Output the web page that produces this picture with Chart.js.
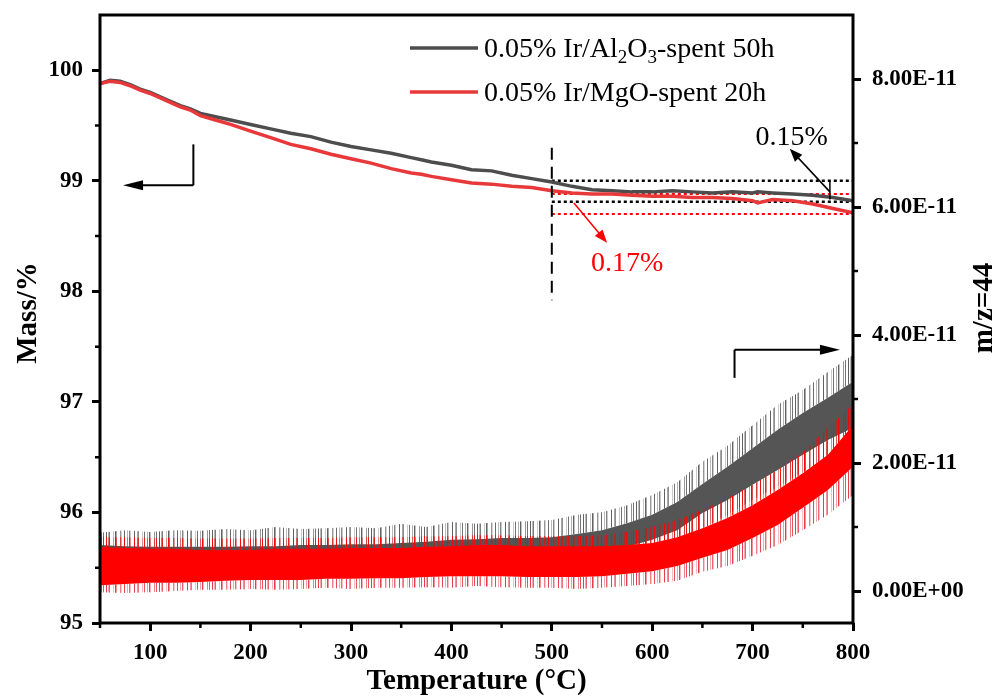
<!DOCTYPE html>
<html>
<head>
<meta charset="utf-8">
<script src="https://cdn.jsdelivr.net/npm/chart.js@4.4.1/dist/chart.umd.min.js"></script>
<style>
  html, body { margin: 0; padding: 0; background: #fff; }
</style>
</head>
<body>
<canvas id="tga" width="1005" height="700"></canvas>
<script>
// ---- mass loss (left axis, %) ----
const massTemp = [50, 60, 70, 80, 90, 100, 115, 130, 140, 150, 165, 180, 200, 220, 240, 260, 280, 300, 320, 340, 360, 370, 380, 400,
  420, 440, 460, 480, 500, 520, 540, 560, 580, 600, 620, 640, 660, 680, 700, 705, 720, 740, 760, 780, 800]
const massAl = [99.88, 99.91, 99.90, 99.87, 99.83, 99.80, 99.74, 99.68, 99.65, 99.61, 99.58, 99.55, 99.51, 99.47, 99.43, 99.40,
  99.35, 99.31, 99.28, 99.25, 99.21, 99.19, 99.17, 99.14, 99.10, 99.09, 99.05, 99.02, 98.99, 98.95, 98.92, 98.91, 98.90, 98.90,
  98.91, 98.90, 98.89, 98.90, 98.89, 98.90, 98.89, 98.88, 98.87, 98.85, 98.82]
const massMg = [99.88, 99.90, 99.89, 99.86, 99.82, 99.79, 99.73, 99.67, 99.64, 99.59, 99.55, 99.51, 99.45, 99.39, 99.33, 99.29,
  99.24, 99.20, 99.16, 99.11, 99.07, 99.06, 99.04, 99.01, 98.98, 98.97, 98.95, 98.94, 98.91, 98.89, 98.88, 98.88, 98.87, 98.86,
  98.86, 98.85, 98.85, 98.84, 98.82, 98.80, 98.83, 98.82, 98.79, 98.75, 98.71]

// ---- m/z=44 signal (right axis, units of 1E-11), envelopes of the noisy trace ----
const msTemp = [50, 75, 100, 125, 150, 175, 200, 225, 250, 275, 300, 325, 350, 375, 400, 425, 450, 475, 500, 525, 550, 575,
  600, 625, 650, 675, 700, 725, 750, 775, 800]
const alSpikeTop = [0.91, 0.95, 0.92, 0.95, 0.94, 0.97, 0.95, 1.00, 0.97, 0.98, 1.00, 0.98, 1.05, 1.00, 1.08, 1.05, 1.08, 1.09,
  1.11, 1.19, 1.23, 1.34, 1.50, 1.70, 2.02, 2.27, 2.59, 2.91, 3.14, 3.42, 3.69]
const alTop = [0.72, 0.70, 0.69, 0.69, 0.69, 0.69, 0.70, 0.70, 0.72, 0.72, 0.73, 0.73, 0.75, 0.77, 0.80, 0.81, 0.83, 0.83,
  0.84, 0.89, 0.95, 1.06, 1.19, 1.39, 1.67, 1.94, 2.23, 2.52, 2.78, 3.02, 3.27]
const alBot = [0.30, 0.30, 0.30, 0.31, 0.31, 0.33, 0.33, 0.33, 0.34, 0.36, 0.36, 0.38, 0.38, 0.39, 0.41, 0.42, 0.44, 0.45,
  0.45, 0.52, 0.59, 0.69, 0.80, 0.95, 1.22, 1.42, 1.66, 1.89, 2.13, 2.36, 2.55]
const alSpikeLow = [0.17, 0.17, 0.18, 0.18, 0.19, 0.19, 0.20, 0.20, 0.21, 0.22, 0.22, 0.23, 0.24, 0.25, 0.27, 0.28, 0.29, 0.30,
  0.31, 0.37, 0.45, 0.56, 0.64, 0.77, 0.98, 1.19, 1.42, 1.63, 1.86, 2.08, 2.25]
const mgSpikeTop = [0.84, 0.84, 0.83, 0.83, 0.82, 0.82, 0.82, 0.83, 0.83, 0.83, 0.84, 0.84, 0.84, 0.85, 0.86, 0.87, 0.87, 0.86,
  0.86, 0.86, 0.87, 0.92, 1.00, 1.11, 1.27, 1.45, 1.66, 1.89, 2.17, 2.55, 2.91]
const mgTop = [0.69, 0.67, 0.66, 0.66, 0.64, 0.64, 0.64, 0.66, 0.66, 0.66, 0.67, 0.67, 0.67, 0.69, 0.70, 0.72, 0.72, 0.70,
  0.70, 0.70, 0.70, 0.72, 0.75, 0.84, 0.98, 1.14, 1.34, 1.58, 1.84, 2.13, 2.59]
const mgBot = [0.09, 0.11, 0.13, 0.13, 0.14, 0.16, 0.17, 0.17, 0.17, 0.19, 0.19, 0.20, 0.20, 0.22, 0.23, 0.23, 0.23, 0.22,
  0.22, 0.22, 0.23, 0.27, 0.31, 0.39, 0.52, 0.64, 0.83, 1.03, 1.30, 1.58, 1.94]
const mgSpikeLow = [-0.02, -0.03, -0.02, 0.00, 0.02, 0.02, 0.03, 0.02, 0.03, 0.05, 0.03, 0.05, 0.05, 0.06, 0.05, 0.08, 0.06,
  0.05, 0.05, 0.03, 0.05, 0.08, 0.11, 0.16, 0.30, 0.39, 0.55, 0.72, 0.95, 1.19, 1.50]

// ---- dotted level lines after 500 °C ----
const levelTemp = [500, 800]
const levelsAl = [99.00, 98.81]
const levelsMg = [98.88, 98.70]

// ---- ticks ----
const xTicks = [100, 200, 300, 400, 500, 600, 700, 800]
const xMinor = [50, 150, 250, 350, 450, 550, 650, 750]
const massTicks = [95, 96, 97, 98, 99, 100]
const massMinor = [95.5, 96.5, 97.5, 98.5, 99.5]
const msTicks = [0, 2, 4, 6, 8]
const msTickLabels = ['0.00E+00', '2.00E-11', '4.00E-11', '6.00E-11', '8.00E-11']
const msMinor = [1, 3, 5, 7]

// ---- annotations, in data coordinates ----
const leftArrow = [[143, 99.33], [143, 98.96], [73, 98.96]]   // mass axis
const rightArrow = [[682, 3.33], [682, 3.77], [787, 3.77]]     // m/z axis
const splitLine = [[500, 99.30], [500, 97.92]]
const noteAl = {text: '0.15%', at: [739, 99.39], from: [777, 98.90], to: [737, 99.29], bar: [777, 99.0, 98.83]}
const noteMg = {text: '0.17%', at: [575, 98.25], from: [522, 98.80], to: [555, 98.44]}

const GRAY = '#4d4d4d'
const RED_MASS = '#e8383a'
const RED_MS = '#ff0000'
const SERIF = '"Liberation Serif", "Times New Roman", serif'

const pts = (xs, ys) => xs.map((x, i) => ({x: x, y: ys[i]}))

// thin uneven vertical hairlines, used to give the envelope bands a spiky look
function hairlines(r, g, b) {
    const c = document.createElement('canvas')
    c.width = 53
    c.height = 4
    const cx = c.getContext('2d')
    const cols = [[0, 0.9], [2, 0.4], [3, 0.75], [7, 0.3], [9, 0.9], [10, 0.5], [14, 0.6], [15, 0.25], [18, 0.85],
        [21, 0.4], [23, 0.7], [24, 0.3], [28, 0.9], [31, 0.5], [32, 0.65], [36, 0.3], [38, 0.8], [41, 0.45],
        [43, 0.9], [44, 0.35], [48, 0.6], [50, 0.8]]
    cols.forEach(([x, al]) => {
        cx.fillStyle = `rgba(${r},${g},${b},${al})`
        cx.fillRect(x, 0, 1, 4)
    })
    return cx.createPattern(c, 'repeat')
}

function band(ys, fill, color, order) {
    return {
        data: pts(msTemp, ys), yAxisID: 'y2', borderWidth: 0, pointRadius: 0,
        fill: fill, backgroundColor: color, order: order
    }
}

const datasets = [
    band(alBot, false, 'transparent', 12),             // 0
    band(alTop, 0, '#555555', 12),                     // 1
    band(alSpikeTop, 1, hairlines(80, 80, 80), 12),    // 2
    band(alSpikeLow, 0, hairlines(80, 80, 80), 12),    // 3
    band(mgBot, false, 'transparent', 10),             // 4
    band(mgTop, 4, RED_MS, 10),                        // 5
    band(mgSpikeTop, 5, hairlines(255, 0, 0), 10),     // 6
    band(mgSpikeLow, 4, hairlines(225, 40, 55), 10),   // 7
    {data: pts(levelTemp, [levelsAl[0], levelsAl[0]]), yAxisID: 'y', borderColor: '#000', borderWidth: 2.5, borderDash: [3, 3], pointRadius: 0, fill: false, order: 3},
    {data: pts(levelTemp, [levelsAl[1], levelsAl[1]]), yAxisID: 'y', borderColor: '#000', borderWidth: 2.5, borderDash: [3, 3], pointRadius: 0, fill: false, order: 3},
    {data: pts(levelTemp, [levelsMg[0], levelsMg[0]]), yAxisID: 'y', borderColor: RED_MS, borderWidth: 2, borderDash: [3, 3], pointRadius: 0, fill: false, order: 3},
    {data: pts(levelTemp, [levelsMg[1], levelsMg[1]]), yAxisID: 'y', borderColor: RED_MS, borderWidth: 2, borderDash: [3, 3], pointRadius: 0, fill: false, order: 3},
    {data: pts(massTemp, massAl), yAxisID: 'y', borderColor: GRAY, borderWidth: 3.5, pointRadius: 0, fill: false, order: 2},
    {data: pts(massTemp, massMg), yAxisID: 'y', borderColor: RED_MASS, borderWidth: 3.5, pointRadius: 0, fill: false, order: 1},
]

function setTicks(values) {
    return scale => { scale.ticks = values.map(v => ({value: v})) }
}

// fixed axis thickness, and no extra label padding eating into the plot area
function fixSize(prop, size) {
    return scale => {
        scale[prop] = size
        scale.paddingTop = 0
        scale.paddingBottom = 0
        scale.paddingLeft = 0
        scale.paddingRight = 0
    }
}

function arrow(ctx, x1, y1, x2, y2, color, lw, head, half) {
    const a = Math.atan2(y2 - y1, x2 - x1)
    ctx.strokeStyle = color
    ctx.fillStyle = color
    ctx.lineWidth = lw
    ctx.beginPath()
    ctx.moveTo(x1, y1)
    ctx.lineTo(x2 - Math.cos(a) * head * 0.8, y2 - Math.sin(a) * head * 0.8)
    ctx.stroke()
    ctx.beginPath()
    ctx.moveTo(x2, y2)
    ctx.lineTo(x2 - Math.cos(a) * head - Math.sin(a) * half, y2 - Math.sin(a) * head + Math.cos(a) * half)
    ctx.lineTo(x2 - Math.cos(a) * head + Math.sin(a) * half, y2 - Math.sin(a) * head - Math.cos(a) * half)
    ctx.closePath()
    ctx.fill()
}

const decor = {
    id: 'decor',
    afterDraw(chart) {
        const ctx = chart.ctx
        const a = chart.chartArea
        const sx = chart.scales.x, sy = chart.scales.y, s2 = chart.scales.y2
        ctx.save()

        // frame
        ctx.strokeStyle = '#000'
        ctx.lineWidth = 3
        ctx.strokeRect(a.left, a.top, a.right - a.left, a.bottom - a.top)

        // minor ticks
        ctx.lineWidth = 2.5
        ctx.beginPath()
        xMinor.forEach(v => { const p = sx.getPixelForValue(v); ctx.moveTo(p, a.bottom); ctx.lineTo(p, a.bottom + 5) })
        massMinor.forEach(v => { const p = sy.getPixelForValue(v); ctx.moveTo(a.left, p); ctx.lineTo(a.left - 5, p) })
        msMinor.forEach(v => { const p = s2.getPixelForValue(v); ctx.moveTo(a.right, p); ctx.lineTo(a.right + 5, p) })
        ctx.stroke()

        // axis titles
        ctx.fillStyle = '#000'
        ctx.font = 'bold 29px ' + SERIF
        ctx.textAlign = 'center'
        ctx.textBaseline = 'middle'
        ctx.fillText('Temperature (°C)', (a.left + a.right) / 2, 682)
        ctx.save()
        ctx.translate(29, 313)
        ctx.rotate(-Math.PI / 2)
        ctx.fillText('Mass/%', 0, 0)
        ctx.restore()
        ctx.save()
        ctx.translate(985, 308)
        ctx.rotate(-Math.PI / 2)
        ctx.fillText('m/z=44', 0, 0)
        ctx.restore()

        // split line at 500 °C
        ctx.strokeStyle = '#000'
        ctx.lineWidth = 2
        ctx.setLineDash([12, 7])
        ctx.beginPath()
        ctx.moveTo(sx.getPixelForValue(splitLine[0][0]), sy.getPixelForValue(splitLine[0][1]))
        ctx.lineTo(sx.getPixelForValue(splitLine[1][0]), sy.getPixelForValue(splitLine[1][1]))
        ctx.stroke()
        ctx.setLineDash([])

        // axis pointer arrows
        const la = leftArrow.map(p => [sx.getPixelForValue(p[0]), sy.getPixelForValue(p[1])])
        ctx.lineWidth = 2
        ctx.beginPath()
        ctx.moveTo(la[0][0], la[0][1]); ctx.lineTo(la[1][0], la[1][1])
        ctx.stroke()
        arrow(ctx, la[1][0], la[1][1], la[2][0], la[2][1], '#000', 2, 20, 5)
        const ra = rightArrow.map(p => [sx.getPixelForValue(p[0]), s2.getPixelForValue(p[1])])
        ctx.beginPath()
        ctx.moveTo(ra[0][0], ra[0][1]); ctx.lineTo(ra[1][0], ra[1][1])
        ctx.stroke()
        arrow(ctx, ra[1][0], ra[1][1], ra[2][0], ra[2][1], '#000', 2, 20, 5)

        // mass loss notes
        ctx.font = '28px ' + SERIF
        ctx.fillStyle = '#000'
        ctx.fillText(noteAl.text, sx.getPixelForValue(noteAl.at[0]), sy.getPixelForValue(noteAl.at[1]))
        arrow(ctx, sx.getPixelForValue(noteAl.from[0]), sy.getPixelForValue(noteAl.from[1]),
            sx.getPixelForValue(noteAl.to[0]), sy.getPixelForValue(noteAl.to[1]), '#000', 1.5, 13, 5)
        ctx.lineWidth = 1.5
        ctx.beginPath()
        ctx.moveTo(sx.getPixelForValue(noteAl.bar[0]), sy.getPixelForValue(noteAl.bar[1]))
        ctx.lineTo(sx.getPixelForValue(noteAl.bar[0]), sy.getPixelForValue(noteAl.bar[2]))
        ctx.stroke()
        ctx.fillStyle = RED_MS
        ctx.fillText(noteMg.text, sx.getPixelForValue(noteMg.at[0]), sy.getPixelForValue(noteMg.at[1]))
        arrow(ctx, sx.getPixelForValue(noteMg.from[0]), sy.getPixelForValue(noteMg.from[1]),
            sx.getPixelForValue(noteMg.to[0]), sy.getPixelForValue(noteMg.to[1]), RED_MS, 1.5, 13, 5)

        // legend with subscripts
        ctx.textAlign = 'left'
        ctx.textBaseline = 'alphabetic'
        const rows = [
            {color: GRAY, y: 48, parts: [['0.05% Ir/Al', 0], ['2', 1], ['O', 0], ['3', 1], ['-spent 50h', 0]]},
            {color: RED_MASS, y: 92, parts: [['0.05% Ir/MgO-spent 20h', 0]]},
        ]
        rows.forEach(r => {
            ctx.strokeStyle = r.color
            ctx.lineWidth = 3.5
            ctx.beginPath()
            ctx.moveTo(410, r.y); ctx.lineTo(478, r.y)
            ctx.stroke()
            let x = 484
            ctx.fillStyle = '#000'
            r.parts.forEach(([t, sub]) => {
                ctx.font = (sub ? '19px ' : '28px ') + SERIF
                ctx.fillText(t, x, r.y + (sub ? 15 : 9))
                x += ctx.measureText(t).width
            })
        })
        ctx.restore()
    }
}

const tickFont = {family: SERIF, size: 23, weight: 'bold'}
const tickGrid = {display: true, drawOnChartArea: false, drawTicks: true, tickLength: 8, tickWidth: 3, tickColor: '#000'}

new Chart(document.getElementById('tga'), {
    type: 'line',
    data: {datasets: datasets},
    plugins: [decor],
    options: {
        responsive: false,
        animation: false,
        devicePixelRatio: 1,
        layout: {padding: {top: 15, left: 0, right: 0, bottom: 0}},
        plugins: {legend: {display: false}, tooltip: {enabled: false}},
        elements: {line: {tension: 0}},
        scales: {
            x: {
                type: 'linear', min: 50, max: 800, position: 'bottom',
                afterBuildTicks: setTicks(xTicks),
                afterFit: fixSize('height', 77),
                grid: tickGrid, border: {display: false},
                ticks: {font: tickFont, color: '#000', padding: 8, maxRotation: 0, callback: v => String(v)}
            },
            y: {
                type: 'linear', min: 95, max: 100.5, position: 'left',
                afterBuildTicks: setTicks(massTicks),
                afterFit: fixSize('width', 100),
                grid: tickGrid, border: {display: false},
                ticks: {font: tickFont, color: '#000', padding: 9, callback: v => String(v)}
            },
            y2: {
                type: 'linear', min: -0.5, max: 9, position: 'right',
                afterBuildTicks: setTicks(msTicks),
                afterFit: fixSize('width', 152),
                grid: tickGrid, border: {display: false},
                ticks: {font: tickFont, color: '#000', padding: 11, callback: v => msTickLabels[msTicks.indexOf(v)]}
            }
        }
    }
})
</script>
</body>
</html>
